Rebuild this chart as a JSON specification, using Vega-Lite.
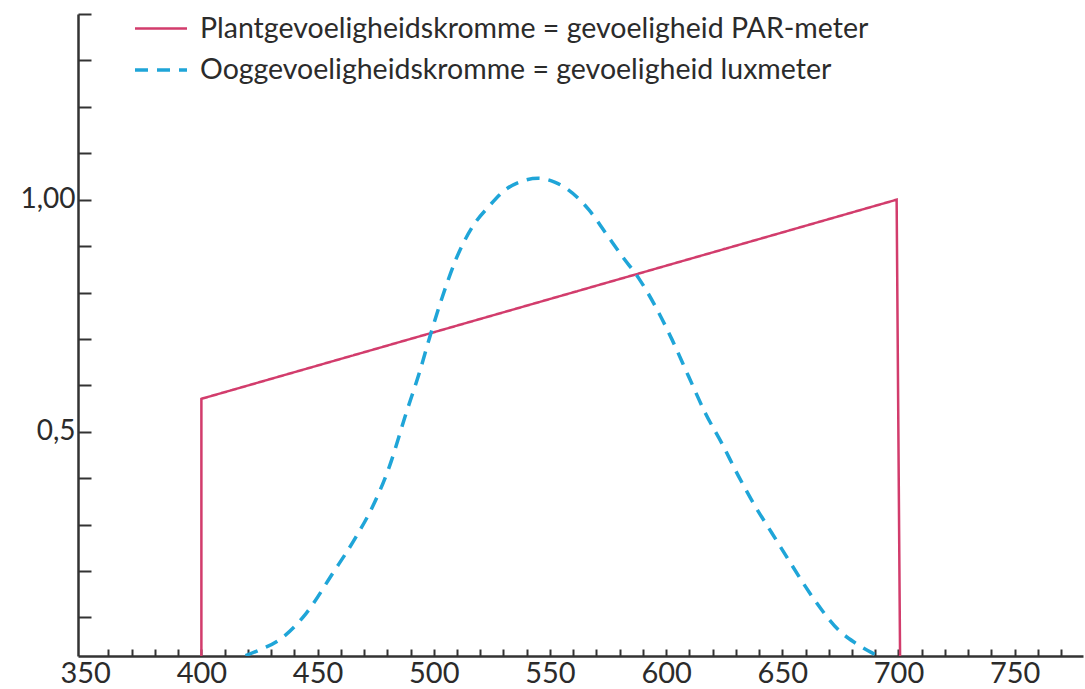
{
  "$schema": "https://vega.github.io/schema/vega-lite/v6.json",
  "width": 1005,
  "height": 642,
  "autosize": {"type": "none"},
  "padding": {"left": 78, "top": 14, "right": 2, "bottom": 33},
  "background": "white",
  "config": {
    "view": {"stroke": null},
    "font": "Lato",
    "axis": {"grid": false, "domainColor": "#333333", "tickColor": "#333333", "labelColor": "#2b2b2b", "labelFont": "Lato", "title": null}
  },
  "data": {
    "values": [
      {"series": "Plantgevoeligheidskromme = gevoeligheid PAR-meter", "seq": 1, "wl": 400, "s": 0},
      {"series": "Plantgevoeligheidskromme = gevoeligheid PAR-meter", "seq": 2, "wl": 400, "s": 0.571},
      {"series": "Plantgevoeligheidskromme = gevoeligheid PAR-meter", "seq": 3, "wl": 699.2, "s": 1.0},
      {"series": "Plantgevoeligheidskromme = gevoeligheid PAR-meter", "seq": 4, "wl": 700.7, "s": 0},
      {"series": "Ooggevoeligheidskromme = gevoeligheid luxmeter", "seq": 1, "wl": 419, "s": 0.018},
      {"series": "Ooggevoeligheidskromme = gevoeligheid luxmeter", "seq": 2, "wl": 425, "s": 0.03},
      {"series": "Ooggevoeligheidskromme = gevoeligheid luxmeter", "seq": 3, "wl": 433.6, "s": 0.052},
      {"series": "Ooggevoeligheidskromme = gevoeligheid luxmeter", "seq": 4, "wl": 445.1, "s": 0.109},
      {"series": "Ooggevoeligheidskromme = gevoeligheid luxmeter", "seq": 5, "wl": 456.5, "s": 0.195},
      {"series": "Ooggevoeligheidskromme = gevoeligheid luxmeter", "seq": 6, "wl": 466.6, "s": 0.274},
      {"series": "Ooggevoeligheidskromme = gevoeligheid luxmeter", "seq": 7, "wl": 473.7, "s": 0.339},
      {"series": "Ooggevoeligheidskromme = gevoeligheid luxmeter", "seq": 8, "wl": 480.9, "s": 0.425},
      {"series": "Ooggevoeligheidskromme = gevoeligheid luxmeter", "seq": 9, "wl": 488.1, "s": 0.54},
      {"series": "Ooggevoeligheidskromme = gevoeligheid luxmeter", "seq": 10, "wl": 493.8, "s": 0.627},
      {"series": "Ooggevoeligheidskromme = gevoeligheid luxmeter", "seq": 11, "wl": 498.8, "s": 0.713},
      {"series": "Ooggevoeligheidskromme = gevoeligheid luxmeter", "seq": 12, "wl": 503.8, "s": 0.792},
      {"series": "Ooggevoeligheidskromme = gevoeligheid luxmeter", "seq": 13, "wl": 509.5, "s": 0.871},
      {"series": "Ooggevoeligheidskromme = gevoeligheid luxmeter", "seq": 14, "wl": 516.7, "s": 0.942},
      {"series": "Ooggevoeligheidskromme = gevoeligheid luxmeter", "seq": 15, "wl": 523.8, "s": 0.986},
      {"series": "Ooggevoeligheidskromme = gevoeligheid luxmeter", "seq": 16, "wl": 531, "s": 1.022},
      {"series": "Ooggevoeligheidskromme = gevoeligheid luxmeter", "seq": 17, "wl": 538, "s": 1.04},
      {"series": "Ooggevoeligheidskromme = gevoeligheid luxmeter", "seq": 18, "wl": 545, "s": 1.046},
      {"series": "Ooggevoeligheidskromme = gevoeligheid luxmeter", "seq": 19, "wl": 552, "s": 1.038},
      {"series": "Ooggevoeligheidskromme = gevoeligheid luxmeter", "seq": 20, "wl": 556.8, "s": 1.025},
      {"series": "Ooggevoeligheidskromme = gevoeligheid luxmeter", "seq": 21, "wl": 566.8, "s": 0.978},
      {"series": "Ooggevoeligheidskromme = gevoeligheid luxmeter", "seq": 22, "wl": 574, "s": 0.928},
      {"series": "Ooggevoeligheidskromme = gevoeligheid luxmeter", "seq": 23, "wl": 581.1, "s": 0.878},
      {"series": "Ooggevoeligheidskromme = gevoeligheid luxmeter", "seq": 24, "wl": 588.3, "s": 0.83},
      {"series": "Ooggevoeligheidskromme = gevoeligheid luxmeter", "seq": 25, "wl": 595.4, "s": 0.77},
      {"series": "Ooggevoeligheidskromme = gevoeligheid luxmeter", "seq": 26, "wl": 602.6, "s": 0.698},
      {"series": "Ooggevoeligheidskromme = gevoeligheid luxmeter", "seq": 27, "wl": 609.7, "s": 0.619},
      {"series": "Ooggevoeligheidskromme = gevoeligheid luxmeter", "seq": 28, "wl": 616.9, "s": 0.54},
      {"series": "Ooggevoeligheidskromme = gevoeligheid luxmeter", "seq": 29, "wl": 624.1, "s": 0.474},
      {"series": "Ooggevoeligheidskromme = gevoeligheid luxmeter", "seq": 30, "wl": 631.2, "s": 0.404},
      {"series": "Ooggevoeligheidskromme = gevoeligheid luxmeter", "seq": 31, "wl": 638.4, "s": 0.339},
      {"series": "Ooggevoeligheidskromme = gevoeligheid luxmeter", "seq": 32, "wl": 645.5, "s": 0.282},
      {"series": "Ooggevoeligheidskromme = gevoeligheid luxmeter", "seq": 33, "wl": 652.7, "s": 0.224},
      {"series": "Ooggevoeligheidskromme = gevoeligheid luxmeter", "seq": 34, "wl": 659.9, "s": 0.167},
      {"series": "Ooggevoeligheidskromme = gevoeligheid luxmeter", "seq": 35, "wl": 667, "s": 0.116},
      {"series": "Ooggevoeligheidskromme = gevoeligheid luxmeter", "seq": 36, "wl": 674.2, "s": 0.073},
      {"series": "Ooggevoeligheidskromme = gevoeligheid luxmeter", "seq": 37, "wl": 681.4, "s": 0.045},
      {"series": "Ooggevoeligheidskromme = gevoeligheid luxmeter", "seq": 38, "wl": 690, "s": 0.02}
    ]
  },
  "encoding": {
    "x": {
      "field": "wl", "type": "quantitative",
      "scale": {"domain": [346.9, 779.4], "nice": false, "zero": false},
      "axis": {
        "values": [350,360,370,380,390,400,410,420,430,440,450,460,470,480,490,500,510,520,530,540,550,560,570,580,590,600,610,620,630,640,650,660,670,680,690,700,710,720,730,740,750,760,770],
        "labelExpr": "datum.value % 50 == 0 ? datum.label : ''",
        "format": "d",
        "tickSize": -7,
        "tickWidth": 2,
        "tickOpacity": {"condition": {"test": "datum.value == 350", "value": 0}, "value": 1},
        "domainWidth": 2.5,
        "labelFontSize": 29,
        "labelBaseline": "alphabetic",
        "labelPadding": 33,
        "labelFlush": false,
        "labelOverlap": false
      }
    },
    "y": {
      "field": "s", "type": "quantitative",
      "scale": {"domain": [0.017, 1.4], "nice": false, "zero": false},
      "axis": {
        "values": [0.1,0.2,0.3,0.4,0.5,0.6,0.7,0.8,0.9,1,1.1,1.2,1.3,1.4],
        "labelExpr": "datum.value == 0.5 ? '0,5' : (datum.value == 1 ? '1,00' : '')",
        "tickSize": -13,
        "tickWidth": 2,
        "domainWidth": 2.5,
        "labelFontSize": 28,
        "labelPadding": 16,
        "labelOverlap": false
      }
    },
    "order": {"field": "seq", "type": "quantitative"},
    "color": {
      "field": "series", "type": "nominal",
      "scale": {"domain": ["Plantgevoeligheidskromme = gevoeligheid PAR-meter", "Ooggevoeligheidskromme = gevoeligheid luxmeter"], "range": ["#d23c6c", "#1fa5d8"]},
      "legend": {
        "title": null,
        "orient": "none",
        "legendX": 68,
        "legendY": 0,
        "symbolType": "M-2,0H2",
        "symbolSize": 676,
        "symbolStrokeWidth": 3,
        "labelFontSize": 28.5,
        "labelFont": "Lato",
        "labelColor": "#2b2b2b",
        "labelOffset": 24,
        "labelLimit": 0,
        "rowPadding": 12,
        "padding": 0
      }
    },
    "strokeDash": {
      "field": "series", "type": "nominal",
      "scale": {"domain": ["Plantgevoeligheidskromme = gevoeligheid PAR-meter", "Ooggevoeligheidskromme = gevoeligheid luxmeter"], "range": [[1, 0], [13, 9]]},
      "legend": null
    },
    "strokeWidth": {
      "field": "series", "type": "nominal",
      "scale": {"domain": ["Plantgevoeligheidskromme = gevoeligheid PAR-meter", "Ooggevoeligheidskromme = gevoeligheid luxmeter"], "range": [2.5, 3.5]},
      "legend": null
    }
  },
  "layer": [
    {
      "transform": [{"filter": "datum.series == 'Plantgevoeligheidskromme = gevoeligheid PAR-meter'"}],
      "mark": {"type": "line", "interpolate": "linear", "clip": true}
    },
    {
      "transform": [{"filter": "datum.series == 'Ooggevoeligheidskromme = gevoeligheid luxmeter'"}],
      "mark": {"type": "line", "interpolate": "monotone", "clip": true}
    }
  ]
}
